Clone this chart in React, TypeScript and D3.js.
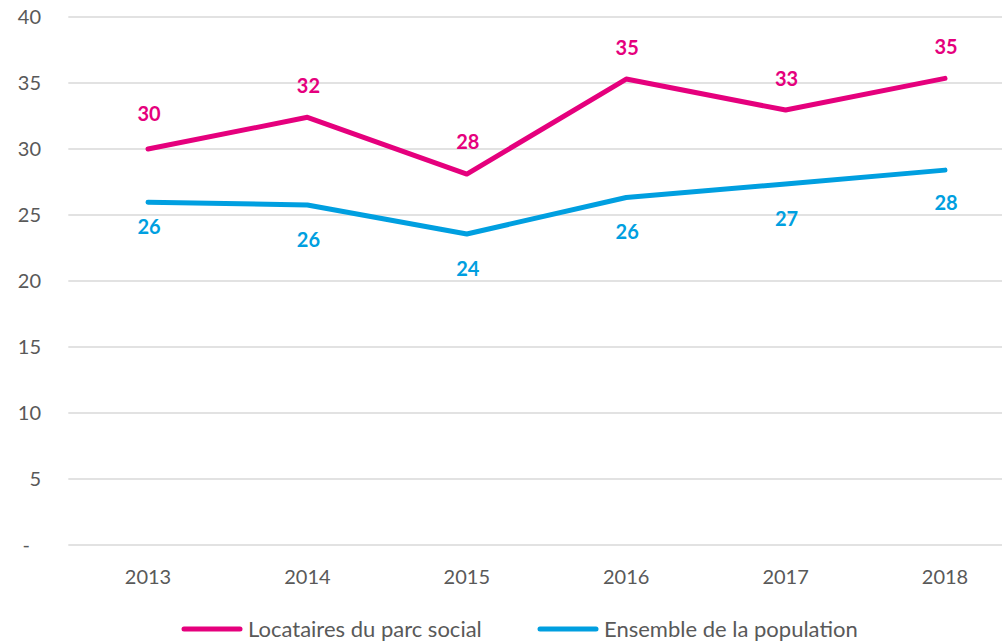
import React from "react";
import * as d3 from "d3";

const years = ["2013", "2014", "2015", "2016", "2017", "2018"];
const locataires = [30.0, 32.4, 28.1, 35.3, 32.95, 35.35];
const ensemble = [25.96, 25.76, 23.56, 26.33, 27.35, 28.4];
const yTicks = [0, 5, 10, 15, 20, 25, 30, 35, 40];
const seriesNames = ["Locataires du parc social", "Ensemble de la population"];

// label placement (style): pixel offsets from the point
const pinkLabelDy = [-35, -32, -32, -31, -31, -32];
const blueLabelDy = [24, 35, 35, 34, 35, 33];

const PINK = "#E5007D";
const BLUE = "#009FE0";
const FONT = "Lato, 'Open Sans', sans-serif";

export default function App() {
  const W = 1002, H = 642;
  const left = 68.3, bandW = 159.4;
  const x = d3.scaleBand().domain(years).range([left, left + bandW * years.length]);
  const y = d3.scaleLinear().domain([0, 40]).range([545, 17]);
  const cx = (d: string) => (x(d) as number) + x.bandwidth() / 2;
  const line = d3.line<number>().x((_, i) => cx(years[i])).y((v) => y(v));

  const series = [
    { name: seriesNames[0], values: locataires, color: PINK, dy: pinkLabelDy, lx: 184 },
    { name: seriesNames[1], values: ensemble, color: BLUE, dy: blueLabelDy, lx: 540 },
  ];

  return (
    <svg width={W} height={H} style={{ position: "absolute", left: 0, top: 0, background: "#fff" }} fontFamily={FONT}>
      {yTicks.map((t) => (
        <g key={t}>
          <line x1={left} x2={W} y1={y(t)} y2={y(t)} stroke="#d9d9d9" strokeWidth={1.5} />
          <text x={t === 0 ? 30 : 41} y={y(t)} dy="0.36em" textAnchor="end" fontSize={20} fill="#595959">
            {t === 0 ? "-" : String(t)}
          </text>
        </g>
      ))}
      {years.map((yr) => (
        <text key={yr} x={cx(yr)} y={577} dy="0.36em" textAnchor="middle" fontSize={20} fill="#595959">
          {yr}
        </text>
      ))}
      {series.map((s) => (
        <g key={s.name}>
          <path d={line(s.values) || ""} fill="none" stroke={s.color} strokeWidth={5} strokeLinejoin="round" strokeLinecap="round" />
          {s.values.map((v, i) => (
            <text key={i} x={cx(years[i]) + 1} y={y(v) + s.dy[i]} dy="0.36em" textAnchor="middle" fontSize={20} fontWeight="bold" fill={s.color}>
              {Math.round(v)}
            </text>
          ))}
        </g>
      ))}
      {series.map((s) => (
        <g key={s.name}>
          <line x1={s.lx} x2={s.lx + 56} y1={629} y2={629} stroke={s.color} strokeWidth={5} strokeLinecap="round" />
          <text x={s.lx + 64} y={629} dy="0.36em" fontSize={22} fill="#595959">
            {s.name}
          </text>
        </g>
      ))}
    </svg>
  );
}
